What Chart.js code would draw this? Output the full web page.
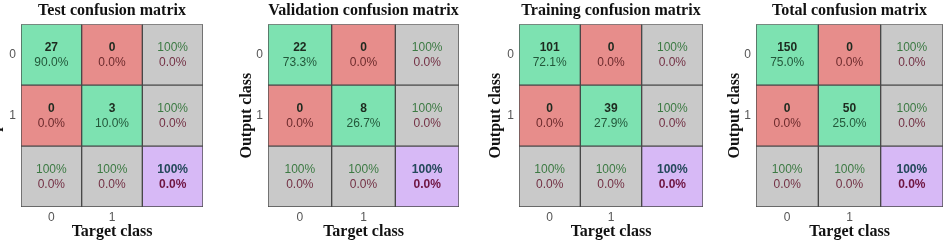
<!DOCTYPE html>
<html>
<head>
<meta charset="utf-8">
<script src="https://cdn.jsdelivr.net/npm/chart.js@4"></script>
<style>
  html, body { margin: 0; padding: 0; background: #fff; width: 947px; height: 244px; overflow: hidden; position: relative; }
  .panel { position: absolute; top: 0; height: 244px; }
</style>
</head>
<body>
<div class="panel" style="left:-17px;width:222px"><canvas id="c0"></canvas></div>
<div class="panel" style="left:229px;width:232px"><canvas id="c1"></canvas></div>
<div class="panel" style="left:474px;width:231px"><canvas id="c2"></canvas></div>
<div class="panel" style="left:711px;width:234px"><canvas id="c3"></canvas></div>
<script>
Chart.defaults.font.family = "'Liberation Sans', Arial, sans-serif";
Chart.defaults.color = '#555';

const GREEN = '#7de2b1';
const RED = '#e78d8b';
const GRAY = '#c9c9c9';
const PURPLE = '#d7b9f6';
const SERIF = "'Liberation Serif', 'Times New Roman', serif";

const classLabels = ['0', '1'];
const rowLabels = ['0', '1', ''];
const titles = ['Test confusion matrix', 'Validation confusion matrix', 'Training confusion matrix', 'Total confusion matrix'];

// counts and share of all samples, rows = output class, cols = target class
const testCounts = [[27, 0], [0, 3]];
const testPct = [[90.0, 0.0], [0.0, 10.0]];
const valCounts = [[22, 0], [0, 8]];
const valPct = [[73.3, 0.0], [0.0, 26.7]];
const trainCounts = [[101, 0], [0, 39]];
const trainPct = [[72.1, 0.0], [0.0, 27.9]];
const totalCounts = [[150, 0], [0, 50]];
const totalPct = [[75.0, 0.0], [0.0, 25.0]];

// margins: per row / per column accuracy and error, overall
const rowCorrect = [100, 100];
const rowError = [0.0, 0.0];
const colCorrect = [100, 100];
const colError = [0.0, 0.0];
const overallCorrect = 100;
const overallError = 0.0;

const matrices = [
    { counts: testCounts, pct: testPct, yWidth: 38, titlePad: 2 },
    { counts: valCounts, pct: valPct, yWidth: 39, titlePad: 8 },
    { counts: trainCounts, pct: trainPct, yWidth: 45, titlePad: 12 },
    { counts: totalCounts, pct: totalPct, yWidth: 45, titlePad: 14 }
];

function cellColor(r, c) {
    if (r === 2 && c === 2) return PURPLE;
    if (r === 2 || c === 2) return GRAY;
    return r === c ? GREEN : RED;
}

const cellText = {
    id: 'cellText',
    afterDatasetsDraw(chart, args, opts) {
        const { ctx, scales: { x, y } } = chart;
        const m = opts.m;
        const sans = "'Liberation Sans', Arial, sans-serif";
        ctx.save();
        ctx.textAlign = 'center';
        ctx.textBaseline = 'middle';
        for (let r = 0; r < 3; r++) {
            for (let c = 0; c < 3; c++) {
                const cx = x.getPixelForValue(c + 0.5);
                const cy = y.getPixelForValue(r);
                let top, bot, topFont, botFont, topCol, botCol;
                if (r < 2 && c < 2) {
                    top = String(m.counts[r][c]);
                    bot = m.pct[r][c].toFixed(1) + '%';
                    topFont = 'bold 12px ' + sans; botFont = '12px ' + sans;
                    topCol = '#1d2a1f';
                    botCol = r === c ? '#23573a' : '#6b2a2c';
                } else if (r === 2 && c === 2) {
                    top = overallCorrect + '%';
                    bot = overallError.toFixed(1) + '%';
                    topFont = botFont = 'bold 12px ' + sans;
                    topCol = '#24485a'; botCol = '#6e1440';
                } else {
                    top = (c === 2 ? rowCorrect[r] : colCorrect[c]) + '%';
                    bot = (c === 2 ? rowError[r] : colError[c]).toFixed(1) + '%';
                    topFont = botFont = '12px ' + sans;
                    topCol = '#3c7a43'; botCol = '#733044';
                }
                ctx.font = topFont; ctx.fillStyle = topCol;
                ctx.fillText(top, cx, cy - 7);
                ctx.font = botFont; ctx.fillStyle = botCol;
                ctx.fillText(bot, cx, cy + 8);
            }
        }
        ctx.restore();
    }
};

matrices.forEach((m, i) => {
    const datasets = [0, 1, 2].map(c => ({
        data: rowLabels.map(() => [c, c + 1]),
        backgroundColor: rowLabels.map((_, r) => cellColor(r, c)),
        borderColor: '#484848',
        borderWidth: 1,
        borderSkipped: false,
        barPercentage: 1,
        categoryPercentage: 1,
        grouped: false
    }));
    new Chart(document.getElementById('c' + i), {
        type: 'bar',
        data: { labels: rowLabels, datasets },
        plugins: [cellText],
        options: {
            indexAxis: 'y',
            responsive: true,
            maintainAspectRatio: false,
            animation: false,
            events: [],
            layout: { padding: { left: 0, right: 2, top: 0, bottom: 3 } },
            plugins: {
                legend: { display: false },
                tooltip: { enabled: false },
                cellText: { m },
                title: {
                    display: true,
                    fullSize: false,
                    text: titles[i],
                    color: '#111',
                    font: { family: SERIF, size: 16, weight: 'bold' },
                    padding: { top: 1, bottom: 4 }
                }
            },
            scales: {
                x: {
                    type: 'linear', min: 0, max: 3,
                    grid: { display: false, drawTicks: false },
                    border: { display: false },
                    afterBuildTicks: s => { s.ticks = [{ value: 0.5 }, { value: 1.5 }]; },
                    afterFit: s => { s.height = 34; },
                    ticks: { callback: v => classLabels[v - 0.5], font: { size: 12 }, padding: 3, color: '#555' },
                    title: {
                        display: true, text: 'Target class', color: '#111',
                        font: { family: SERIF, size: 16, weight: 'bold' },
                        padding: { top: 0, bottom: 0 }
                    }
                },
                y: {
                    grid: { display: false, drawTicks: false },
                    border: { display: false },
                    afterFit: s => { s.width = m.yWidth; },
                    ticks: { font: { size: 12 }, padding: 5, color: '#555' },
                    title: {
                        display: true, text: 'Output class', color: '#111',
                        font: { family: SERIF, size: 16, weight: 'bold' },
                        padding: { top: m.titlePad, bottom: 0 }
                    }
                }
            }
        }
    });
});
</script>
</body>
</html>
